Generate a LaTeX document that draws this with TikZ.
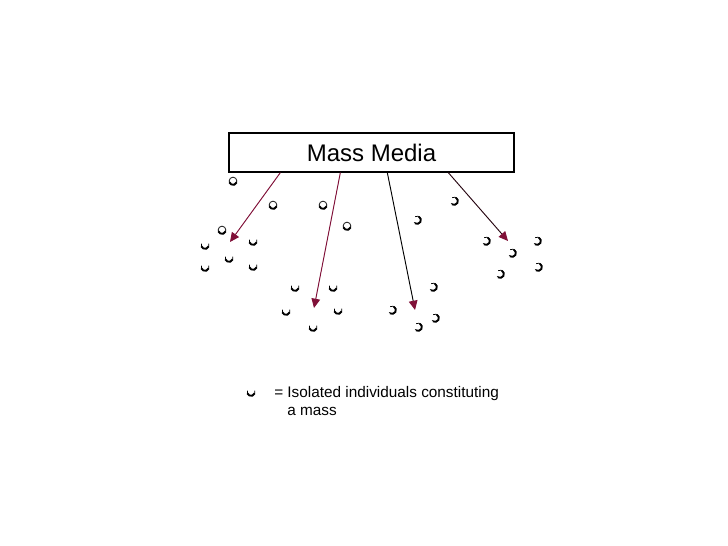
\documentclass[tikz,border=0pt]{standalone}
\usepackage{fontspec}
\setmainfont{Liberation Sans}
\usetikzlibrary{arrows.meta,calc}
\definecolor{maroon}{RGB}{128,16,56}
\tikzset{
  media/.style={draw=black, line width=1pt, minimum width=213.75pt, minimum height=29.25pt, inner sep=0pt, font=\fontsize{18}{20}\selectfont},
  arr/.style={line width=0.7pt, -{Triangle[length=7pt,width=6.5pt]}},
  thin/.style={line width=0.55pt},
  thick2/.style={line width=1.4pt},
  legend/.style={font=\fontsize{11.5}{13}\selectfont, inner sep=0pt, anchor=base west}
}
\newcommand{\indO}[2]{\draw[thin] (#1,#2) circle (2.9pt); \draw[thick2] ([shift={(200:2.9pt)}]#1,#2) arc (200:340:2.9pt);}
\newcommand{\indU}[2]{\draw[thin] ([shift={(160:2.9pt)}]#1,#2) arc (160:380:2.9pt); \draw[thick2] ([shift={(200:2.9pt)}]#1,#2) arc (200:340:2.9pt);}
\newcommand{\indR}[2]{\draw[thin] ([shift={(120:2.9pt)}]#1,#2) arc (120:-140:2.9pt); \draw[thick2] ([shift={(60:2.9pt)}]#1,#2) arc (60:-120:2.9pt);}
\begin{document}
\begin{tikzpicture}[x=0.75pt,y=-0.75pt]
\useasboundingbox (0,0) rectangle (728,546);
\node[media] (media) at (371.5,152.5) {Mass Media};
\coordinate (s1) at ($(media.south west)+(52,0)$);
\coordinate (s2) at ($(media.south west)+(112,0)$);
\coordinate (s3) at ($(media.south west)+(159,0)$);
\coordinate (s4) at ($(media.south west)+(220,0)$);
\coordinate (t1) at (230,242);
\coordinate (t2) at (314,308);
\coordinate (t3) at (415,310);
\coordinate (t4) at (508,241);
\draw[arr, draw=maroon, fill=maroon] (s1) -- (t1);
\draw[arr, draw=maroon, fill=maroon] (s2) -- (t2);
\draw[arr, draw=black, -{Triangle[length=7pt,width=6.5pt,color=maroon,fill=maroon]}] (s3) -- (t3);
\draw[arr, draw=black!70!maroon, -{Triangle[length=7pt,width=6.5pt,color=maroon,fill=maroon]}] (s4) -- (t4);
\indO{233}{181}
\indO{273}{205}
\indO{323}{205}
\indO{347}{226}
\indO{222}{230}
\indU{205}{245}
\indU{253}{241}
\indU{229}{258}
\indU{205}{267}
\indU{253}{266}
\indR{454}{201}
\indR{417}{220}
\indR{486}{241}
\indR{512}{253}
\indR{537}{241}
\indR{538}{267}
\indR{500}{274}
\indU{295}{287}
\indU{333}{287}
\indU{286}{311}
\indU{338}{310}
\indU{313}{327}
\indR{433}{287}
\indR{392}{310}
\indR{435}{318}
\indR{418}{327}
\indU{251}{392}
\node[legend] (l1) at (274,397) {= Isolated individuals constituting};
\node[legend] (l2) at (287,415) {a mass};
\end{tikzpicture}
\end{document}
